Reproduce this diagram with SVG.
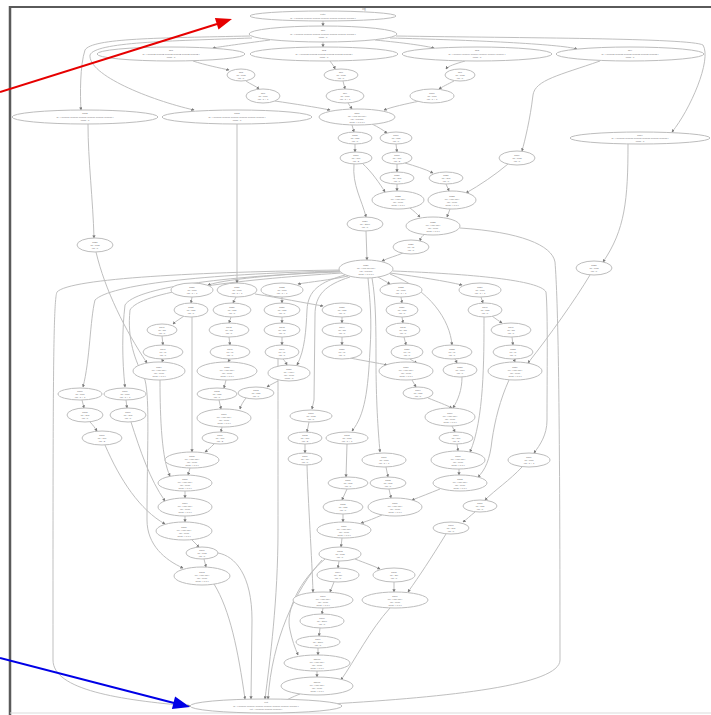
<svg xmlns="http://www.w3.org/2000/svg" width="711" height="715" viewBox="0 0 711 715">
<defs>
<marker id="a" viewBox="0 0 6 6" refX="5" refY="3" markerWidth="3.2" markerHeight="3.2" orient="auto" markerUnits="userSpaceOnUse"><path d="M0 0L6 3L0 6z" fill="#7a7a7a"/></marker>
<style>
.n ellipse{fill:#fff;stroke:#bdbdbd;stroke-width:1}
.n text{font-family:"Liberation Sans",Arial,sans-serif;font-size:2.4px;fill:#6e6e6e;text-anchor:middle}
#edges path{fill:none;stroke:#bcbcbc;stroke-width:0.95;marker-end:url(#a)}
.t{font-family:"Liberation Sans",Arial,sans-serif;font-size:2.6px;fill:#777;text-anchor:middle}
</style>
</defs>
<rect width="711" height="715" fill="#fff"/>
<path d="M10 7H711" stroke="#5a5a5a" stroke-width="2"/>
<path d="M10 6V715" stroke="#5a5a5a" stroke-width="2.5"/>
<path d="M10 713H711" stroke="#dcdcdc" stroke-width="1.2"/>
<text class="t" x="364" y="10">cfg</text>

<g id="edges">
<path d="M323 21L323 26"/>
<path d="M323 42L323 47"/>
<path d="M270 40C240 44 225 46 213 48"/>
<path d="M375 40C405 43 420 45 434 48"/>
<path d="M390 38C470 40 560 44 577 49"/>
<path d="M250 36C160 38 92 38 85 50C80 65 80 95 81 110"/>
<path d="M252 38C170 41 95 42 90 55C88 75 150 100 194 110"/>
<path d="M396 36C520 38 690 38 703 45C712 60 690 110 672 132"/>
<path d="M193 61C205 65 220 68 229 70"/>
<path d="M330 61C332 64 334 66 335 69"/>
<path d="M465 61C455 64 448 66 446 69"/>
<path d="M600 61C560 75 535 80 533 95C530 120 525 140 522 151"/>
<path d="M246 81C250 84 256 86 259 89"/>
<path d="M343 81L345 89"/>
<path d="M454 81C448 84 442 87 439 89"/>
<path d="M275 101C295 104 315 107 330 110"/>
<path d="M348 103L352 109"/>
<path d="M420 101C405 104 392 107 384 110"/>
<path d="M352 125L354 132"/>
<path d="M372 124C378 127 383 130 387 133"/>
<path d="M355 144L355 152"/>
<path d="M396 144L397 152"/>
<path d="M397 164L397 172"/>
<path d="M405 163C415 166 425 169 433 173"/>
<path d="M362 163C372 172 380 184 385 192"/>
<path d="M397 184L397 191"/>
<path d="M446 184L449 191"/>
<path d="M354 164C352 185 362 200 366 217"/>
<path d="M410 208C414 211 417 214 420 217"/>
<path d="M450 209L447 217"/>
<path d="M508 164C495 175 480 185 466 193"/>
<path d="M425 234C422 236 421 237 420 241"/>
<path d="M366 231L367 260"/>
<path d="M403 253C396 256 388 258 382 261"/>
<path d="M88 124C88 160 93 200 94 238"/>
<path d="M628 144C628 200 625 230 603 262"/>
<path d="M460 228C520 232 552 245 555 262C558 300 560 400 560 660C560 685 450 697 330 704"/>
<path d="M340 271C290 274 230 278 208 285"/>
<path d="M348 276C330 280 310 282 298 284"/>
<path d="M378 277C383 280 387 282 390 284"/>
<path d="M390 273C420 277 445 281 462 285"/>
<path d="M340 270C200 272 70 278 57 292C53 300 53 400 53 660C53 690 120 700 190 706"/>
<path d="M340 271C200 274 110 285 95 300C90 320 90 360 83 387"/>
<path d="M340 272C220 276 135 288 125 305C122 330 122 360 125 387"/>
<path d="M342 273C230 280 140 292 130 310C127 340 135 360 145 380C150 400 147 450 147 520C147 545 165 560 183 568"/>
<path d="M345 275C320 282 308 290 307 310C306 330 305 350 297 365"/>
<path d="M350 277C325 285 315 295 315 315L314 400L312 409"/>
<path d="M368 278C370 300 372 320 370 350C368 390 365 415 352 431"/>
<path d="M372 278C376 300 376 330 376 360C376 400 378 430 380 452"/>
<path d="M390 274C430 290 450 320 452 345"/>
<path d="M393 271C470 274 540 280 546 292C548 310 547 380 547 420C547 435 540 445 534 453"/>
<path d="M237 124L237 283"/>
<path d="M96 252C105 290 125 330 147 363"/>
<path d="M590 275C575 300 550 335 528 363"/>
<path d="M192 297L191 303"/>
<path d="M184 316C180 319 176 321 173 324"/>
<path d="M162 336L163 345"/>
<path d="M163 359L162 362"/>
<path d="M192 317L192 452"/>
<path d="M236 297L233 303"/>
<path d="M231 317L229 323"/>
<path d="M229 337L230 345"/>
<path d="M230 359L228 362"/>
<path d="M282 297L282 303"/>
<path d="M282 317L282 323"/>
<path d="M282 337L282 345"/>
<path d="M283 359C285 361 286 363 287 365"/>
<path d="M278 358C278 400 278 450 278 530C278 600 270 660 265 699"/>
<path d="M255 294C280 298 305 303 323 306"/>
<path d="M342 317L342 323"/>
<path d="M342 337L342 345"/>
<path d="M350 358C365 361 378 363 387 365"/>
<path d="M401 297L402 303"/>
<path d="M402 317L403 323"/>
<path d="M404 337L406 345"/>
<path d="M410 359C413 361 415 362 417 363"/>
<path d="M481 297L483 303"/>
<path d="M492 316C496 319 499 321 502 323"/>
<path d="M512 337L513 345"/>
<path d="M514 359L515 362"/>
<path d="M484 317C484 360 484 420 470 452"/>
<path d="M455 359L457 363"/>
<path d="M462 377C462 390 458 400 453 408"/>
<path d="M412 380L416 387"/>
<path d="M428 398C438 402 446 405 452 408"/>
<path d="M452 426L455 432"/>
<path d="M457 444L458 451"/>
<path d="M459 469L459 475"/>
<path d="M509 380C500 400 495 420 492 440C490 460 485 470 478 477"/>
<path d="M522 467C510 480 495 490 485 500"/>
<path d="M440 489C430 493 420 497 412 500"/>
<path d="M475 512C470 516 467 519 463 522"/>
<path d="M446 534C430 560 420 575 408 592"/>
<path d="M226 380L224 388"/>
<path d="M219 400L221 409"/>
<path d="M246 398C243 402 241 405 240 409"/>
<path d="M278 381C274 383 270 385 267 387"/>
<path d="M222 427L221 432"/>
<path d="M214 444C211 447 208 450 205 452"/>
<path d="M190 468L188 475"/>
<path d="M185 491L185 498"/>
<path d="M160 380C160 420 162 460 170 476"/>
<path d="M82 400L84 408"/>
<path d="M126 400L127 408"/>
<path d="M90 422C93 425 95 428 97 431"/>
<path d="M105 445C120 480 140 510 165 524"/>
<path d="M131 422C140 450 150 480 165 501"/>
<path d="M185 516L185 522"/>
<path d="M192 540L199 547"/>
<path d="M204 559L206 567"/>
<path d="M218 553C235 556 252 575 252 620L251 699"/>
<path d="M214 584C230 610 238 650 245 699"/>
<path d="M309 422L307 432"/>
<path d="M305 444L305 453"/>
<path d="M307 465C308 500 312 560 313 592"/>
<path d="M347 444L346 477"/>
<path d="M347 489L342 500"/>
<path d="M343 514L343 522"/>
<path d="M386 467L388 477"/>
<path d="M389 489L391 498"/>
<path d="M382 515C375 518 368 521 361 523"/>
<path d="M342 538L341 547"/>
<path d="M339 561L338 568"/>
<path d="M355 559C365 563 374 566 380 569"/>
<path d="M325 559C300 580 285 610 290 630C292 640 295 648 298 655"/>
<path d="M322 560C295 590 272 640 268 699"/>
<path d="M334 582L330 592"/>
<path d="M394 582L394 592"/>
<path d="M323 608L322 614"/>
<path d="M320 628L319 636"/>
<path d="M318 648L318 655"/>
<path d="M317 671L317 677"/>
<path d="M390 608C370 630 355 660 341 680"/>
<path d="M300 694C292 697 287 700 282 702"/>
</g>

<g id="n1" class="n"><ellipse cx="323" cy="16" rx="73" ry="5"/><text x="323" y="15">entry</text><text x="323" y="18.5">id : [ 0x0000 0x0000 0x0000 0x0000 0x0000 0x0000 0x0000 ]</text></g>
<g id="n2" class="n"><ellipse cx="323" cy="34" rx="74" ry="8"/><text x="323" y="31">bb0</text><text x="323" y="34.5">id : [ 0x0001 0x0001 0x0001 0x0001 0x0001 0x0001 0x0001 ]</text><text x="323" y="38">cond : 1</text></g>
<g id="n3a" class="n"><ellipse cx="171" cy="54" rx="74" ry="7"/><text x="171" y="51">bb1</text><text x="171" y="54.5">id : [ 0x0002 0x0002 0x0002 0x0002 0x0002 0x0002 ]</text><text x="171" y="58">cond : 1</text></g>
<g id="n3b" class="n"><ellipse cx="324" cy="54" rx="74" ry="7"/><text x="324" y="51">bb2</text><text x="324" y="54.5">id : [ 0x0003 0x0003 0x0003 0x0003 0x0003 0x0003 ]</text><text x="324" y="58">cond : 1</text></g>
<g id="n3c" class="n"><ellipse cx="477" cy="54" rx="75" ry="7"/><text x="477" y="51">bb3</text><text x="477" y="54.5">id : [ 0x0004 0x0004 0x0004 0x0004 0x0004 0x0004 ]</text><text x="477" y="58">cond : 1</text></g>
<g id="n3d" class="n"><ellipse cx="630" cy="54" rx="74" ry="7"/><text x="630" y="51">bb4</text><text x="630" y="54.5">id : [ 0x0005 0x0005 0x0005 0x0005 0x0005 0x0005 ]</text><text x="630" y="58">cond : 1</text></g>
<g id="n4a" class="n"><ellipse cx="241" cy="75" rx="14" ry="6"/><text x="241" y="73">bb5</text><text x="241" y="76">op : load</text><text x="241" y="79">val : 0</text></g>
<g id="n4b" class="n"><ellipse cx="341" cy="75" rx="17" ry="6"/><text x="341" y="73">bb6</text><text x="341" y="76">op : load</text><text x="341" y="79">val : 0</text></g>
<g id="n4c" class="n"><ellipse cx="460" cy="75" rx="15" ry="6"/><text x="460" y="73">bb7</text><text x="460" y="76">op : load</text><text x="460" y="79">val : 0</text></g>
<g id="n5a" class="n"><ellipse cx="263" cy="96" rx="17" ry="7"/><text x="263" y="94">bb8</text><text x="263" y="97">op : cmp</text><text x="263" y="100">val : 1 + 1</text></g>
<g id="n5b" class="n"><ellipse cx="345" cy="96" rx="19" ry="7"/><text x="345" y="94">bb9</text><text x="345" y="97">op : cmp</text><text x="345" y="100">val : 1 + 1</text></g>
<g id="n5c" class="n"><ellipse cx="432" cy="96" rx="22" ry="7"/><text x="432" y="94">bb10</text><text x="432" y="97">op : cmp</text><text x="432" y="100">val : 1 + 1</text></g>
<g id="n6" class="n"><ellipse cx="357" cy="117" rx="38" ry="8"/><text x="357" y="113.5">bb11</text><text x="357" y="116.5">op : [ phi phi phi ]</text><text x="357" y="119.5">val : 0x0000</text><text x="357" y="122.5">cond : [ 0 0 0 ]</text></g>
<g id="nL1" class="n"><ellipse cx="85" cy="117" rx="73" ry="7"/><text x="85" y="114">bb12</text><text x="85" y="117.5">id : [ 0x0006 0x0006 0x0006 0x0006 0x0006 0x0006 ]</text><text x="85" y="121">cond : 1</text></g>
<g id="nL2" class="n"><ellipse cx="237" cy="117" rx="75" ry="7"/><text x="237" y="114">bb13</text><text x="237" y="117.5">id : [ 0x0007 0x0007 0x0007 0x0007 0x0007 0x0007 ]</text><text x="237" y="121">cond : 1</text></g>
<g id="nR1" class="n"><ellipse cx="640" cy="138" rx="70" ry="6"/><text x="640" y="135.5">bb14</text><text x="640" y="138.5">id : [ 0x0008 0x0008 0x0008 0x0008 0x0008 0x0008 ]</text><text x="640" y="141.5">cond : 1</text></g>
<g id="n7a" class="n"><ellipse cx="355" cy="138" rx="17" ry="6"/><text x="355" y="136">bb15</text><text x="355" y="139">op : add</text><text x="355" y="142">val : 0</text></g>
<g id="n7b" class="n"><ellipse cx="396" cy="138" rx="16" ry="6"/><text x="396" y="136">bb16</text><text x="396" y="139">op : add</text><text x="396" y="142">val : 0</text></g>
<g id="n8a" class="n"><ellipse cx="356" cy="158" rx="16" ry="6"/><text x="356" y="156">bb17</text><text x="356" y="159">op : mul</text><text x="356" y="162">val : 2</text></g>
<g id="n8b" class="n"><ellipse cx="397" cy="158" rx="15" ry="6"/><text x="397" y="156">bb18</text><text x="397" y="159">op : mul</text><text x="397" y="162">val : 2</text></g>
<g id="nR2" class="n"><ellipse cx="517" cy="158" rx="18" ry="7"/><text x="517" y="156">bb19</text><text x="517" y="159">op : load</text><text x="517" y="162">val : 0</text></g>
<g id="n9a" class="n"><ellipse cx="397" cy="178" rx="17" ry="6"/><text x="397" y="176">bb20</text><text x="397" y="179">op : sub</text><text x="397" y="182">val : 0</text></g>
<g id="n9b" class="n"><ellipse cx="446" cy="178" rx="17" ry="6"/><text x="446" y="176">bb21</text><text x="446" y="179">op : sub</text><text x="446" y="182">val : 0</text></g>
<g id="n10a" class="n"><ellipse cx="398" cy="200" rx="26" ry="9"/><text x="398" y="197">bb22</text><text x="398" y="200">op : [ phi phi ]</text><text x="398" y="203">val : 0x00</text><text x="398" y="206">cond : [ 0 0 ]</text></g>
<g id="n10b" class="n"><ellipse cx="452" cy="200" rx="24" ry="9"/><text x="452" y="197">bb23</text><text x="452" y="200">op : [ phi phi ]</text><text x="452" y="203">val : 0x00</text><text x="452" y="206">cond : [ 0 0 ]</text></g>
<g id="n11a" class="n"><ellipse cx="365" cy="224" rx="18" ry="7"/><text x="365" y="222">bb24</text><text x="365" y="225">op : store</text><text x="365" y="228">val : 0</text></g>
<g id="n11b" class="n"><ellipse cx="433" cy="226" rx="27" ry="9"/><text x="433" y="223">bb25</text><text x="433" y="226">op : [ phi phi ]</text><text x="433" y="229">val : 0x00</text><text x="433" y="232">cond : [ 0 0 ]</text></g>
<g id="n12" class="n"><ellipse cx="411" cy="247" rx="18" ry="7"/><text x="411" y="245">bb26</text><text x="411" y="248">op : br</text><text x="411" y="251">val : 0</text></g>
<g id="nL3" class="n"><ellipse cx="95" cy="245" rx="18" ry="7"/><text x="95" y="243">bb27</text><text x="95" y="246">op : load</text><text x="95" y="249">val : 0</text></g>
<g id="nR3" class="n"><ellipse cx="594" cy="268" rx="18" ry="7"/><text x="594" y="266">bb28</text><text x="594" y="269">op : load</text><text x="594" y="272">val : 0</text></g>
<g id="hub" class="n"><ellipse cx="366" cy="269" rx="27" ry="9"/><text x="366" y="266">bb29</text><text x="366" y="269">op : [ phi phi phi ]</text><text x="366" y="272">val : 0x0000</text><text x="366" y="275">cond : [ 0 0 0 ]</text></g>

<g id="r14a" class="n"><ellipse cx="192" cy="290" rx="21" ry="7"/><text x="192" y="288">bb30</text><text x="192" y="291">op : cmp</text><text x="192" y="294">val : 1 + 1</text></g>
<g id="r14b" class="n"><ellipse cx="237" cy="290" rx="20" ry="7"/><text x="237" y="288">bb31</text><text x="237" y="291">op : cmp</text><text x="237" y="294">val : 1 + 1</text></g>
<g id="r14c" class="n"><ellipse cx="282" cy="290" rx="21" ry="7"/><text x="282" y="288">bb32</text><text x="282" y="291">op : cmp</text><text x="282" y="294">val : 1 + 1</text></g>
<g id="r14d" class="n"><ellipse cx="401" cy="290" rx="21" ry="7"/><text x="401" y="288">bb33</text><text x="401" y="291">op : cmp</text><text x="401" y="294">val : 1 + 1</text></g>
<g id="r14e" class="n"><ellipse cx="480" cy="290" rx="21" ry="7"/><text x="480" y="288">bb34</text><text x="480" y="291">op : cmp</text><text x="480" y="294">val : 1 + 1</text></g>
<g id="r15a" class="n"><ellipse cx="191" cy="310" rx="17" ry="7"/><text x="191" y="308">bb35</text><text x="191" y="311">op : add</text><text x="191" y="314">val : 0</text></g>
<g id="r15b" class="n"><ellipse cx="232" cy="310" rx="19" ry="7"/><text x="232" y="308">bb36</text><text x="232" y="311">op : add</text><text x="232" y="314">val : 0</text></g>
<g id="r15c" class="n"><ellipse cx="282" cy="310" rx="18" ry="7"/><text x="282" y="308">bb37</text><text x="282" y="311">op : add</text><text x="282" y="314">val : 0</text></g>
<g id="r15d" class="n"><ellipse cx="342" cy="310" rx="20" ry="7"/><text x="342" y="308">bb38</text><text x="342" y="311">op : add</text><text x="342" y="314">val : 0</text></g>
<g id="r15e" class="n"><ellipse cx="402" cy="310" rx="16" ry="7"/><text x="402" y="308">bb39</text><text x="402" y="311">op : add</text><text x="402" y="314">val : 0</text></g>
<g id="r15f" class="n"><ellipse cx="485" cy="310" rx="17" ry="7"/><text x="485" y="308">bb40</text><text x="485" y="311">op : add</text><text x="485" y="314">val : 0</text></g>
<g id="r16a" class="n"><ellipse cx="162" cy="330" rx="15" ry="6"/><text x="162" y="328">bb41</text><text x="162" y="331">op : shl</text><text x="162" y="334">val : 0</text></g>
<g id="r16b" class="n"><ellipse cx="229" cy="330" rx="20" ry="7"/><text x="229" y="328">bb42</text><text x="229" y="331">op : shl</text><text x="229" y="334">val : 0</text></g>
<g id="r16c" class="n"><ellipse cx="282" cy="330" rx="18" ry="7"/><text x="282" y="328">bb43</text><text x="282" y="331">op : shl</text><text x="282" y="334">val : 0</text></g>
<g id="r16d" class="n"><ellipse cx="342" cy="330" rx="20" ry="7"/><text x="342" y="328">bb44</text><text x="342" y="331">op : shl</text><text x="342" y="334">val : 0</text></g>
<g id="r16e" class="n"><ellipse cx="403" cy="330" rx="17" ry="7"/><text x="403" y="328">bb45</text><text x="403" y="331">op : shl</text><text x="403" y="334">val : 0</text></g>
<g id="r16f" class="n"><ellipse cx="511" cy="330" rx="20" ry="7"/><text x="511" y="328">bb46</text><text x="511" y="331">op : shl</text><text x="511" y="334">val : 0</text></g>
<g id="r17a" class="n"><ellipse cx="163" cy="352" rx="20" ry="7"/><text x="163" y="350">bb47</text><text x="163" y="353">op : or</text><text x="163" y="356">val : 0</text></g>
<g id="r17b" class="n"><ellipse cx="230" cy="352" rx="20" ry="7"/><text x="230" y="350">bb48</text><text x="230" y="353">op : or</text><text x="230" y="356">val : 0</text></g>
<g id="r17c" class="n"><ellipse cx="282" cy="352" rx="17" ry="7"/><text x="282" y="350">bb49</text><text x="282" y="353">op : or</text><text x="282" y="356">val : 0</text></g>
<g id="r17d" class="n"><ellipse cx="342" cy="352" rx="20" ry="7"/><text x="342" y="350">bb50</text><text x="342" y="353">op : or</text><text x="342" y="356">val : 0</text></g>
<g id="r17e" class="n"><ellipse cx="407" cy="352" rx="16" ry="7"/><text x="407" y="350">bb51</text><text x="407" y="353">op : or</text><text x="407" y="356">val : 0</text></g>
<g id="r17f" class="n"><ellipse cx="452" cy="352" rx="20" ry="7"/><text x="452" y="350">bb52</text><text x="452" y="353">op : or</text><text x="452" y="356">val : 0</text></g>
<g id="r17g" class="n"><ellipse cx="513" cy="352" rx="20" ry="7"/><text x="513" y="350">bb53</text><text x="513" y="353">op : or</text><text x="513" y="356">val : 0</text></g>
<g id="r18a" class="n"><ellipse cx="159" cy="371" rx="26" ry="9"/><text x="159" y="368">bb54</text><text x="159" y="371">op : [ phi phi ]</text><text x="159" y="374">val : 0x00</text><text x="159" y="377">cond : [ 0 0 ]</text></g>
<g id="r18b" class="n"><ellipse cx="227" cy="371" rx="30" ry="9"/><text x="227" y="368">bb55</text><text x="227" y="371">op : [ phi phi ]</text><text x="227" y="374">val : 0x00</text><text x="227" y="377">cond : [ 0 0 ]</text></g>
<g id="r18c" class="n"><ellipse cx="289" cy="373" rx="21" ry="8"/><text x="289" y="370">bb56</text><text x="289" y="373">op : [ phi ]</text><text x="289" y="376">val : 0x00</text><text x="289" y="379">cond : 0</text></g>
<g id="r18d" class="n"><ellipse cx="406" cy="371" rx="27" ry="9"/><text x="406" y="368">bb57</text><text x="406" y="371">op : [ phi phi ]</text><text x="406" y="374">val : 0x00</text><text x="406" y="377">cond : [ 0 0 ]</text></g>
<g id="r18e" class="n"><ellipse cx="460" cy="370" rx="17" ry="7"/><text x="460" y="368">bb58</text><text x="460" y="371">op : mov</text><text x="460" y="374">val : 0</text></g>
<g id="r18f" class="n"><ellipse cx="515" cy="371" rx="27" ry="9"/><text x="515" y="368">bb59</text><text x="515" y="371">op : [ phi phi ]</text><text x="515" y="374">val : 0x00</text><text x="515" y="377">cond : [ 0 0 ]</text></g>
<g id="r19a" class="n"><ellipse cx="80" cy="394" rx="22" ry="6"/><text x="80" y="392">bb60</text><text x="80" y="395">op : cmp</text><text x="80" y="398">val : 1 + 1</text></g>
<g id="r19b" class="n"><ellipse cx="125" cy="394" rx="21" ry="6"/><text x="125" y="392">bb61</text><text x="125" y="395">op : cmp</text><text x="125" y="398">val : 1 + 1</text></g>
<g id="r19c" class="n"><ellipse cx="217" cy="394" rx="20" ry="6"/><text x="217" y="392">bb62</text><text x="217" y="395">op : add</text><text x="217" y="398">val : 0</text></g>
<g id="r19d" class="n"><ellipse cx="256" cy="393" rx="18" ry="6"/><text x="256" y="391">bb63</text><text x="256" y="394">op : add</text><text x="256" y="397">val : 0</text></g>
<g id="r19e" class="n"><ellipse cx="418" cy="393" rx="15" ry="6"/><text x="418" y="391">bb64</text><text x="418" y="394">op : add</text><text x="418" y="397">val : 0</text></g>
<g id="r20a" class="n"><ellipse cx="85" cy="415" rx="18" ry="7"/><text x="85" y="413">bb65</text><text x="85" y="416">op : sub</text><text x="85" y="419">val : 0</text></g>
<g id="r20b" class="n"><ellipse cx="128" cy="415" rx="18" ry="7"/><text x="128" y="413">bb66</text><text x="128" y="416">op : sub</text><text x="128" y="419">val : 0</text></g>
<g id="r20c" class="n"><ellipse cx="224" cy="418" rx="27" ry="9"/><text x="224" y="415">bb67</text><text x="224" y="418">op : [ phi phi ]</text><text x="224" y="421">val : 0x00</text><text x="224" y="424">cond : [ 0 0 ]</text></g>
<g id="r20d" class="n"><ellipse cx="311" cy="416" rx="21" ry="6"/><text x="311" y="414">bb68</text><text x="311" y="417">op : load</text><text x="311" y="420">val : 0</text></g>
<g id="r20e" class="n"><ellipse cx="450" cy="417" rx="25" ry="9"/><text x="450" y="414">bb69</text><text x="450" y="417">op : [ phi phi ]</text><text x="450" y="420">val : 0x00</text><text x="450" y="423">cond : [ 0 0 ]</text></g>
<g id="r21a" class="n"><ellipse cx="102" cy="438" rx="20" ry="7"/><text x="102" y="436">bb70</text><text x="102" y="439">op : mul</text><text x="102" y="442">val : 2</text></g>
<g id="r21b" class="n"><ellipse cx="220" cy="438" rx="18" ry="6"/><text x="220" y="436">bb71</text><text x="220" y="439">op : mul</text><text x="220" y="442">val : 2</text></g>
<g id="r21c" class="n"><ellipse cx="305" cy="438" rx="17" ry="6"/><text x="305" y="436">bb72</text><text x="305" y="439">op : mul</text><text x="305" y="442">val : 2</text></g>
<g id="r21d" class="n"><ellipse cx="347" cy="438" rx="21" ry="6"/><text x="347" y="436">bb73</text><text x="347" y="439">op : cmp</text><text x="347" y="442">val : 1 + 1</text></g>
<g id="r21e" class="n"><ellipse cx="456" cy="438" rx="17" ry="6"/><text x="456" y="436">bb74</text><text x="456" y="439">op : mul</text><text x="456" y="442">val : 2</text></g>
<g id="r22a" class="n"><ellipse cx="192" cy="460" rx="27" ry="8"/><text x="192" y="457">bb75</text><text x="192" y="460">op : [ phi phi ]</text><text x="192" y="463">val : 0x00</text><text x="192" y="466">cond : [ 0 0 ]</text></g>
<g id="r22b" class="n"><ellipse cx="305" cy="459" rx="17" ry="6"/><text x="305" y="457">bb76</text><text x="305" y="460">op : xor</text><text x="305" y="463">val : 0</text></g>
<g id="r22c" class="n"><ellipse cx="384" cy="460" rx="22" ry="7"/><text x="384" y="458">bb77</text><text x="384" y="461">op : cmp</text><text x="384" y="464">val : 1 + 1</text></g>
<g id="r22d" class="n"><ellipse cx="458" cy="460" rx="27" ry="9"/><text x="458" y="457">bb78</text><text x="458" y="460">op : [ phi phi ]</text><text x="458" y="463">val : 0x00</text><text x="458" y="466">cond : [ 0 0 ]</text></g>
<g id="r22e" class="n"><ellipse cx="529" cy="460" rx="21" ry="7"/><text x="529" y="458">bb79</text><text x="529" y="461">op : cmp</text><text x="529" y="464">val : 1 + 1</text></g>
<g id="r23a" class="n"><ellipse cx="185" cy="483" rx="27" ry="8"/><text x="185" y="480">bb80</text><text x="185" y="483">op : [ phi phi ]</text><text x="185" y="486">val : 0x00</text><text x="185" y="489">cond : [ 0 0 ]</text></g>
<g id="r23b" class="n"><ellipse cx="348" cy="483" rx="20" ry="6"/><text x="348" y="481">bb81</text><text x="348" y="484">op : and</text><text x="348" y="487">val : 0</text></g>
<g id="r23c" class="n"><ellipse cx="388" cy="483" rx="18" ry="6"/><text x="388" y="481">bb82</text><text x="388" y="484">op : and</text><text x="388" y="487">val : 0</text></g>
<g id="r23d" class="n"><ellipse cx="460" cy="483" rx="27" ry="8"/><text x="460" y="480">bb83</text><text x="460" y="483">op : [ phi phi ]</text><text x="460" y="486">val : 0x00</text><text x="460" y="489">cond : [ 0 0 ]</text></g>
<g id="r24a" class="n"><ellipse cx="185" cy="507" rx="27" ry="9"/><text x="185" y="504">bb84</text><text x="185" y="507">op : [ phi phi ]</text><text x="185" y="510">val : 0x00</text><text x="185" y="513">cond : [ 0 0 ]</text></g>
<g id="r24b" class="n"><ellipse cx="343" cy="507" rx="20" ry="7"/><text x="343" y="505">bb85</text><text x="343" y="508">op : add</text><text x="343" y="511">val : 0</text></g>
<g id="r24c" class="n"><ellipse cx="395" cy="507" rx="27" ry="9"/><text x="395" y="504">bb86</text><text x="395" y="507">op : [ phi phi ]</text><text x="395" y="510">val : 0x00</text><text x="395" y="513">cond : [ 0 0 ]</text></g>
<g id="r24d" class="n"><ellipse cx="480" cy="506" rx="17" ry="6"/><text x="480" y="504">bb87</text><text x="480" y="507">op : add</text><text x="480" y="510">val : 0</text></g>
<g id="r25a" class="n"><ellipse cx="184" cy="531" rx="28" ry="9"/><text x="184" y="528">bb88</text><text x="184" y="531">op : [ phi phi ]</text><text x="184" y="534">val : 0x00</text><text x="184" y="537">cond : [ 0 0 ]</text></g>
<g id="r25b" class="n"><ellipse cx="344" cy="530" rx="27" ry="8"/><text x="344" y="527">bb89</text><text x="344" y="530">op : [ phi phi ]</text><text x="344" y="533">val : 0x00</text><text x="344" y="536">cond : [ 0 0 ]</text></g>
<g id="r25c" class="n"><ellipse cx="451" cy="528" rx="18" ry="6"/><text x="451" y="526">bb90</text><text x="451" y="529">op : sub</text><text x="451" y="532">val : 0</text></g>
<g id="r26a" class="n"><ellipse cx="202" cy="553" rx="16" ry="6"/><text x="202" y="551">bb91</text><text x="202" y="554">op : load</text><text x="202" y="557">val : 0</text></g>
<g id="r26b" class="n"><ellipse cx="340" cy="554" rx="21" ry="7"/><text x="340" y="552">bb92</text><text x="340" y="555">op : load</text><text x="340" y="558">val : 0</text></g>
<g id="r27a" class="n"><ellipse cx="202" cy="576" rx="28" ry="9"/><text x="202" y="573">bb93</text><text x="202" y="576">op : [ phi phi ]</text><text x="202" y="579">val : 0x00</text><text x="202" y="582">cond : [ 0 0 ]</text></g>
<g id="r27b" class="n"><ellipse cx="338" cy="575" rx="21" ry="7"/><text x="338" y="573">bb94</text><text x="338" y="576">op : shr</text><text x="338" y="579">val : 0</text></g>
<g id="r27c" class="n"><ellipse cx="394" cy="575" rx="21" ry="7"/><text x="394" y="573">bb95</text><text x="394" y="576">op : shr</text><text x="394" y="579">val : 0</text></g>
<g id="r28a" class="n"><ellipse cx="323" cy="600" rx="30" ry="8"/><text x="323" y="597">bb96</text><text x="323" y="600">op : [ phi phi ]</text><text x="323" y="603">val : 0x00</text><text x="323" y="606">cond : [ 0 0 ]</text></g>
<g id="r28b" class="n"><ellipse cx="395" cy="600" rx="33" ry="8"/><text x="395" y="597">bb97</text><text x="395" y="600">op : [ phi phi ]</text><text x="395" y="603">val : 0x00</text><text x="395" y="606">cond : [ 0 0 ]</text></g>
<g id="r29" class="n"><ellipse cx="322" cy="621" rx="22" ry="7"/><text x="322" y="619">bb98</text><text x="322" y="622">op : store</text><text x="322" y="625">val : 0</text></g>
<g id="r30" class="n"><ellipse cx="318" cy="642" rx="22" ry="6"/><text x="318" y="640">bb99</text><text x="318" y="643">op : store</text><text x="318" y="646">val : 0</text></g>
<g id="r31" class="n"><ellipse cx="317" cy="663" rx="33" ry="8"/><text x="317" y="660">bb100</text><text x="317" y="663">op : [ phi phi ]</text><text x="317" y="666">val : 0x00</text><text x="317" y="669">cond : [ 0 0 ]</text></g>
<g id="r32" class="n"><ellipse cx="317" cy="686" rx="36" ry="9"/><text x="317" y="683">bb101</text><text x="317" y="686">op : [ phi phi ]</text><text x="317" y="689">val : 0x00</text><text x="317" y="692">cond : [ 0 0 ]</text></g>
<g id="bottom" class="n"><ellipse cx="266" cy="706" rx="76" ry="7"/><text x="266" y="703">exit</text><text x="266" y="706.5">id : [ 0x0009 0x0009 0x0009 0x0009 0x0009 0x0009 0x0009 ]</text><text x="266" y="710">ret : [ 0x0000 0x0000 0x0000 ]</text></g>

<g id="callouts">
<path d="M0 92L217 24" stroke="#e60000" stroke-width="2" fill="none"/>
<polygon points="232,19 218.5,29.5 214.9,18.1" fill="#e60000"/>
<path d="M0 658L174 703" stroke="#0000e6" stroke-width="2" fill="none"/>
<polygon points="190,707 171.9,709 175.1,696.4" fill="#0000e6"/>
</g>
</svg>
